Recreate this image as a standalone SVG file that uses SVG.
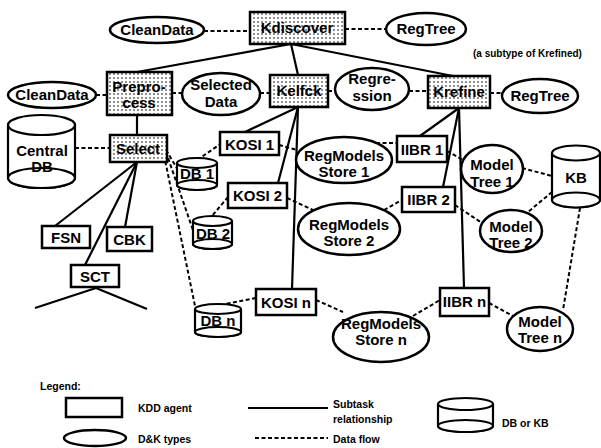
<svg xmlns="http://www.w3.org/2000/svg" width="601" height="448" viewBox="0 0 601 448">
<defs>
<pattern id="dots" width="4" height="4" patternUnits="userSpaceOnUse">
<rect width="4" height="4" fill="#fff"/>
<circle cx="2" cy="2" r="0.8" fill="#000"/>
</pattern>
</defs>
<style>
text{font-family:"Liberation Sans",Arial,sans-serif;font-weight:bold;fill:#000;text-anchor:middle}
.t{font-size:15px}
.s{font-size:10.5px;text-anchor:start}
.agent rect{fill:url(#dots);stroke:#000;stroke-width:2.5}
.box rect{fill:#fff;stroke:#000;stroke-width:2.5}
.dk ellipse{fill:#fff;stroke:#000;stroke-width:2.5}
.db path,.db ellipse{fill:#fff;stroke:#000;stroke-width:2.2}
.sub{stroke:#000;stroke-width:2.2;fill:none}
.flow{stroke:#000;stroke-width:2;stroke-dasharray:4 2.5;fill:none}
</style>
<rect width="601" height="448" fill="#fff"/>
<g id="connectors">
<!-- subtask -->
<line class="sub" x1="291" y1="44" x2="137" y2="72"/>
<line class="sub" x1="291" y1="44" x2="298" y2="75"/>
<line class="sub" x1="291" y1="44" x2="453" y2="76"/>
<line class="sub" x1="137" y1="115" x2="137" y2="135"/>
<line class="sub" x1="137" y1="162" x2="55" y2="226"/>
<line class="sub" x1="137" y1="162" x2="125" y2="227"/>
<line class="sub" x1="137" y1="162" x2="85" y2="265"/>
<line class="sub" x1="96" y1="288" x2="35" y2="308"/>
<line class="sub" x1="96" y1="288" x2="147" y2="309"/>
<line class="sub" x1="298" y1="107" x2="245" y2="132"/>
<line class="sub" x1="298" y1="107" x2="278" y2="183"/>
<line class="sub" x1="298" y1="107" x2="292" y2="289"/>
<line class="sub" x1="459" y1="108" x2="420" y2="136"/>
<line class="sub" x1="459" y1="108" x2="443" y2="187"/>
<line class="sub" x1="459" y1="108" x2="464" y2="288"/>
<!-- data flow -->
<line class="flow" x1="204" y1="31" x2="250" y2="31"/>
<line class="flow" x1="345" y1="29" x2="386" y2="29"/>
<line class="flow" x1="96" y1="95" x2="107" y2="95"/>
<line class="flow" x1="172" y1="93" x2="182" y2="93"/>
<line class="flow" x1="260" y1="93" x2="270" y2="93"/>
<line class="flow" x1="328" y1="91" x2="335" y2="91"/>
<line class="flow" x1="409" y1="91" x2="428" y2="91"/>
<line class="flow" x1="490" y1="93" x2="502" y2="93"/>
<line class="flow" x1="75" y1="148" x2="110" y2="148"/>
<line class="flow" x1="166" y1="150" x2="178" y2="170"/>
<line class="flow" x1="166" y1="152" x2="194" y2="233"/>
<line class="flow" x1="164" y1="155" x2="195" y2="306"/>
<line class="flow" x1="222" y1="143" x2="200" y2="158"/>
<line class="flow" x1="228" y1="197" x2="212" y2="216"/>
<line class="flow" x1="256" y1="298" x2="225" y2="304"/>
<line class="flow" x1="279" y1="145" x2="297" y2="150"/>
<line class="flow" x1="287" y1="198" x2="313" y2="210"/>
<line class="flow" x1="316" y1="300" x2="343" y2="312"/>
<line class="flow" x1="376" y1="143" x2="397" y2="143"/>
<line class="flow" x1="384" y1="210" x2="402" y2="200"/>
<line class="flow" x1="413" y1="316" x2="440" y2="300"/>
<line class="flow" x1="447" y1="151" x2="463" y2="160"/>
<line class="flow" x1="455" y1="205" x2="482" y2="223"/>
<line class="flow" x1="489" y1="303" x2="513" y2="316"/>
<line class="flow" x1="522" y1="168" x2="552" y2="176"/>
<line class="flow" x1="552" y1="192" x2="528" y2="212"/>
<line class="flow" x1="580" y1="208" x2="563" y2="310"/>
</g>
<!-- top row -->
<g id="cleandata-top" class="dk"><ellipse cx="157" cy="30" rx="47" ry="13"/><text class="t" x="157" y="35">CleanData</text></g>
<g id="kdiscover" class="agent"><rect x="250" y="12" width="95" height="32"/><text class="t" x="297" y="33">Kdiscover</text></g>
<g id="regtree-top" class="dk"><ellipse cx="426" cy="29" rx="40" ry="16"/><text class="t" x="426" y="34">RegTree</text></g>
<text class="s" x="473" y="57" style="font-size:10px">(a subtype of Krefined)</text>
<!-- second row -->
<g id="cleandata-left" class="dk"><ellipse cx="52" cy="95" rx="44" ry="13"/><text class="t" x="52" y="100">CleanData</text></g>
<g id="preprocess" class="agent"><rect x="107" y="72" width="65" height="43"/><text class="t" x="139" y="92">Prepro-</text><text class="t" x="139" y="108">cess</text></g>
<g id="selected-data" class="dk"><ellipse cx="221" cy="94" rx="39" ry="21"/><text class="t" x="221" y="90">Selected</text><text class="t" x="221" y="107">Data</text></g>
<g id="kelfck" class="agent"><rect x="270" y="75" width="58" height="32"/><text class="t" x="299" y="96">Kelfck</text></g>
<g id="regression" class="dk"><ellipse cx="372" cy="89" rx="37" ry="21"/><text class="t" x="372" y="84">Regre-</text><text class="t" x="372" y="101">ssion</text></g>
<g id="krefine" class="agent"><rect x="428" y="76" width="62" height="32"/><text class="t" x="459" y="97">Krefine</text></g>
<g id="regtree-right" class="dk"><ellipse cx="540" cy="96" rx="38" ry="17"/><text class="t" x="540" y="101">RegTree</text></g>
<!-- select area -->
<g id="central-db" class="db"><path d="M8 125 V178 A33.5 10 0 0 0 75 178 V125"/><ellipse cx="41.5" cy="125" rx="33.5" ry="10"/><ellipse cx="41.5" cy="178" rx="33.5" ry="10" fill="none"/><text class="t" x="42" y="156">Central</text><text class="t" x="42" y="172">DB</text></g>
<g id="select" class="agent"><rect x="110" y="135" width="57" height="27"/><text class="t" x="138" y="154">Select</text></g>
<g id="fsn" class="box"><rect x="42" y="226" width="48" height="22"/><text class="t" x="66" y="243">FSN</text></g>
<g id="cbk" class="box"><rect x="107" y="227" width="45" height="24"/><text class="t" x="129.5" y="245">CBK</text></g>
<g id="sct" class="box"><rect x="71" y="265" width="48" height="22"/><text class="t" x="95" y="282">SCT</text></g>
<!-- KOSI column -->
<g id="db1" class="db"><path d="M177 163 V185 A20 5 0 0 0 217 185 V163"/><ellipse cx="197" cy="163" rx="20" ry="5"/><ellipse cx="197" cy="185" rx="20" ry="5" fill="none"/><text class="t" x="197" y="179">DB 1</text></g>
<g id="db2" class="db"><path d="M193 221 V244 A19.5 5 0 0 0 232 244 V221"/><ellipse cx="212.5" cy="221" rx="19.5" ry="5"/><ellipse cx="212.5" cy="244" rx="19.5" ry="5" fill="none"/><text class="t" x="213" y="239">DB 2</text></g>
<g id="dbn" class="db"><path d="M195 309 V332 A23 5 0 0 0 241 332 V309"/><ellipse cx="218" cy="309" rx="23" ry="5"/><ellipse cx="218" cy="332" rx="23" ry="5" fill="none"/><text class="t" x="218" y="326">DB n</text></g>
<g id="kosi1" class="box"><rect x="220" y="132" width="59" height="23"/><text class="t" x="249.5" y="150">KOSI 1</text></g>
<g id="kosi2" class="box"><rect x="228" y="183" width="59" height="25"/><text class="t" x="257.5" y="201">KOSI 2</text></g>
<g id="kosin" class="box"><rect x="256" y="289" width="60" height="26"/><text class="t" x="286" y="308">KOSI n</text></g>
<!-- RegModels stores -->
<g id="store1" class="dk"><ellipse cx="344" cy="160" rx="48" ry="23"/><text class="t" x="344" y="161">RegModels</text><text class="t" x="344" y="177">Store 1</text></g>
<g id="store2" class="dk"><ellipse cx="349" cy="229" rx="51" ry="26"/><text class="t" x="349" y="230">RegModels</text><text class="t" x="349" y="246">Store 2</text></g>
<g id="storen" class="dk"><ellipse cx="381" cy="337" rx="48" ry="25"/><text class="t" x="381" y="329">RegModels</text><text class="t" x="381" y="345">Store n</text></g>
<!-- IIBR column -->
<g id="iibr1" class="box"><rect x="397" y="136" width="50" height="26"/><text class="t" x="422" y="155">IIBR 1</text></g>
<g id="iibr2" class="box"><rect x="402" y="187" width="53" height="25"/><text class="t" x="428.5" y="205">IIBR 2</text></g>
<g id="iibrn" class="box"><rect x="440" y="288" width="49" height="28"/><text class="t" x="464.5" y="307">IIBR n</text></g>
<!-- model trees and KB -->
<g id="modeltree1" class="dk"><ellipse cx="492" cy="169" rx="31" ry="24"/><text class="t" x="492" y="170">Model</text><text class="t" x="492" y="187">Tree 1</text></g>
<g id="modeltree2" class="dk"><ellipse cx="511" cy="231" rx="31" ry="21"/><text class="t" x="511" y="232">Model</text><text class="t" x="511" y="248">Tree 2</text></g>
<g id="modeltreen" class="dk"><ellipse cx="540" cy="329" rx="33" ry="22"/><text class="t" x="540" y="327">Model</text><text class="t" x="540" y="343">Tree n</text></g>
<g id="kb" class="db"><path d="M552 153 V200 A24 7.5 0 0 0 600 200 V153"/><ellipse cx="576" cy="153" rx="24" ry="7.5"/><ellipse cx="576" cy="200" rx="24" ry="7.5" fill="none"/><text class="t" x="576" y="183">KB</text></g>
<!-- legend -->
<g id="legend">
<text class="s" x="40" y="390">Legend:</text>
<rect x="66" y="398" width="56" height="19" fill="#fff" stroke="#000" stroke-width="2.5"/>
<text class="s" x="138" y="412">KDD agent</text>
<ellipse cx="95" cy="438" rx="31" ry="8" fill="#fff" stroke="#000" stroke-width="2.5"/>
<text class="s" x="138" y="443">D&amp;K types</text>
<line class="sub" x1="248" y1="408" x2="328" y2="408"/>
<text class="s" x="333" y="408">Subtask</text>
<text class="s" x="333" y="423">relationship</text>
<line class="flow" x1="255" y1="438" x2="328" y2="438"/>
<text class="s" x="333" y="443">Data flow</text>
<g class="db"><path d="M438 404 V426 A27.5 6 0 0 0 493 426 V404"/><ellipse cx="465.5" cy="404" rx="27.5" ry="6"/><ellipse cx="465.5" cy="426" rx="27.5" ry="6" fill="none"/></g>
<text class="s" x="502" y="427">DB or KB</text>
</g>
</svg>
